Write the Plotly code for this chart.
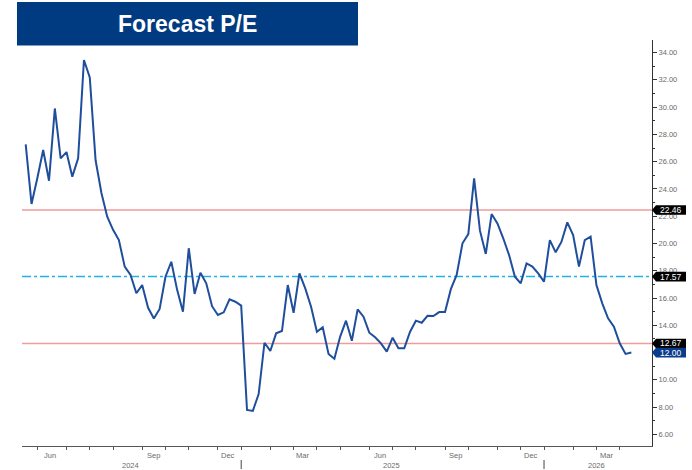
import plotly.graph_objects as go
import pandas as pd

# ---- data -------------------------------------------------------------
start_date = "2024-04-19"
pe = [27.27, 22.9, 24.8, 26.85, 24.6, 29.9, 26.24, 26.7, 24.9, 26.24,
      33.45, 32.18, 26.1, 23.7, 21.96, 21.0, 20.25, 18.3, 17.7, 16.35,
      16.95, 15.3, 14.5, 15.2, 17.56, 18.66, 16.6, 15.0, 19.65, 16.3,
      17.86, 17.08, 15.4, 14.76, 14.95, 15.9, 15.73, 15.44, 7.79, 7.72,
      8.96, 12.72, 12.12, 13.41, 13.58, 16.95, 14.92, 17.81, 16.71, 15.36,
      13.53, 13.85, 11.9, 11.55, 13.17, 14.34, 12.87, 15.17, 14.63, 13.46,
      13.12, 12.68, 12.07, 13.09, 12.31, 12.31, 13.53, 14.34, 14.19, 14.7,
      14.68, 14.97, 14.97, 16.65, 17.69, 20.01, 20.69, 24.78, 20.94, 19.23,
      22.16, 21.47, 20.38, 19.15, 17.56, 17.08, 18.54, 18.3, 17.81, 17.2,
      20.25, 19.35, 20.13, 21.55, 20.62, 18.3, 20.25, 20.5, 16.95, 15.61,
      14.51, 13.9, 12.68, 11.9, 12.0]

mean_pe = 17.57
upper_band = 22.46
lower_band = 12.67
last_value = 12.00

month_labels = ["Jun", "Sep", "Dec", "Mar", "Jun", "Sep", "Dec", "Mar"]
month_label_dates = ["2024-05-18", "2024-09-19", "2024-12-18", "2025-03-18",
                     "2025-06-19", "2025-09-18", "2025-12-17", "2026-03-18"]
year_labels = ["2024", "2025", "2026"]
year_label_dates = ["2024-08-23", "2025-07-03", "2026-03-06"]

title_text = "Forecast P/E"

# ---- derived ----------------------------------------------------------
dates = pd.date_range(start_date, periods=len(pe), freq="7D")
s = pd.Series(dates)
month_starts = [d for d in s.groupby([s.dt.year, s.dt.month]).first() if d.day <= 7]
year_starts = [d for d in month_starts if d.month == 1]

# ---- geometry helpers (pixels -> paper) -------------------------------
W, H = 692, 470
L, R, T, B = 22, 40, 40, 24
PW, PH = W - L - R, H - T - B
def px(x):
    return (x - L) / PW
def py(y):
    return (H - B - y) / PH

YMIN, YMAX = 5.15, 34.92
unit_px = PH / (YMAX - YMIN)

AX_FONT = "Liberation Sans"
LABEL_GREY = "#6b6b6b"

fig = go.Figure()
fig.add_trace(go.Scatter(x=dates, y=pe, mode="lines",
                         line=dict(color="#1F4F9C", width=2),
                         hoverinfo="skip"))

shapes = []
# horizontal reference lines
for val, col, dash in [(upper_band, "#F39A9A", "solid"),
                       (lower_band, "#F39A9A", "solid"),
                       (mean_pe, "#20B2E6", "dashdot")]:
    shapes.append(dict(type="line", xref="paper", x0=0, x1=1, yref="y",
                       y0=val, y1=val, line=dict(color=col, width=1.5, dash=dash),
                       layer="below"))

# title banner
shapes.append(dict(type="rect", xref="paper", yref="paper",
                   x0=px(17), x1=px(358), y0=py(45.5), y1=py(2),
                   fillcolor="#003A80", line=dict(width=0), layer="above"))

# year separators
for d in year_starts:
    shapes.append(dict(type="line", xref="x", yref="paper", x0=d, x1=d,
                       y0=py(460), y1=py(469), line=dict(color="#444", width=1)))

annotations = []
# value tags on the right axis
half = 4.8 / unit_px
tags = [(upper_band, "#000000"), (mean_pe, "#000000"),
        (lower_band, "#000000"), (last_value, "#0B3C8C")]
for val, col in tags:
    x0, x1, x2 = px(652), px(656), px(686)
    path = (f"M {x0},{val} L {x1},{val + half} L {x2},{val + half} "
            f"L {x2},{val - half} L {x1},{val - half} Z")
    shapes.append(dict(type="path", xref="paper", yref="y", path=path,
                       fillcolor=col, line=dict(width=0), layer="above"))
    annotations.append(dict(xref="paper", yref="y", x=px(671), y=val,
                            text=f"{val:.2f}", showarrow=False,
                            xanchor="center", yanchor="middle",
                            font=dict(color="white", size=8.5, family=AX_FONT)))

# month labels
for lab, d in zip(month_labels, month_label_dates):
    annotations.append(dict(xref="x", yref="paper", x=d, y=py(455.5),
                            text=lab, showarrow=False, xanchor="center",
                            yanchor="middle",
                            font=dict(color=LABEL_GREY, size=7.5, family=AX_FONT)))
# year labels
for lab, d in zip(year_labels, year_label_dates):
    annotations.append(dict(xref="x", yref="paper", x=d, y=py(465.5),
                            text=lab, showarrow=False, xanchor="center",
                            yanchor="middle",
                            font=dict(color=LABEL_GREY, size=7.5, family=AX_FONT)))

# title text
annotations.append(dict(xref="paper", yref="paper", x=px(187), y=py(23.5),
                        text=f"<b>{title_text}</b>", showarrow=False,
                        xanchor="center", yanchor="middle",
                        font=dict(color="white", size=23, family=AX_FONT)))

fig.update_layout(
    width=W, height=H,
    margin=dict(l=L, r=R, t=T, b=B, pad=0),
    paper_bgcolor="white", plot_bgcolor="white",
    showlegend=False,
    shapes=shapes, annotations=annotations,
    xaxis=dict(type="date",
               range=["2024-04-14 13:00", "2026-05-11 19:00"],
               tickmode="array", tickvals=month_starts,
               ticktext=["" for _ in month_starts],
               ticks="outside", ticklen=3, tickcolor="#555",
               showline=True, linecolor="#555", linewidth=1,
               showgrid=False, zeroline=False),
    yaxis=dict(side="right", range=[YMIN, YMAX],
               tickmode="linear", tick0=6, dtick=2, tickformat=".2f",
               ticks="outside", ticklen=4, tickcolor="#333",
               minor=dict(dtick=1, tick0=6, ticks="outside", ticklen=2,
                          tickcolor="#333"),
               tickfont=dict(color=LABEL_GREY, size=7.5, family=AX_FONT),
               showline=True, linecolor="#333", linewidth=1,
               showgrid=False, zeroline=False),
)

fig.write_html("out.html",
               config={"displayModeBar": False, "staticPlot": True},
               post_script="document.body.style.margin='0';"
                           "document.body.style.padding='0';")
